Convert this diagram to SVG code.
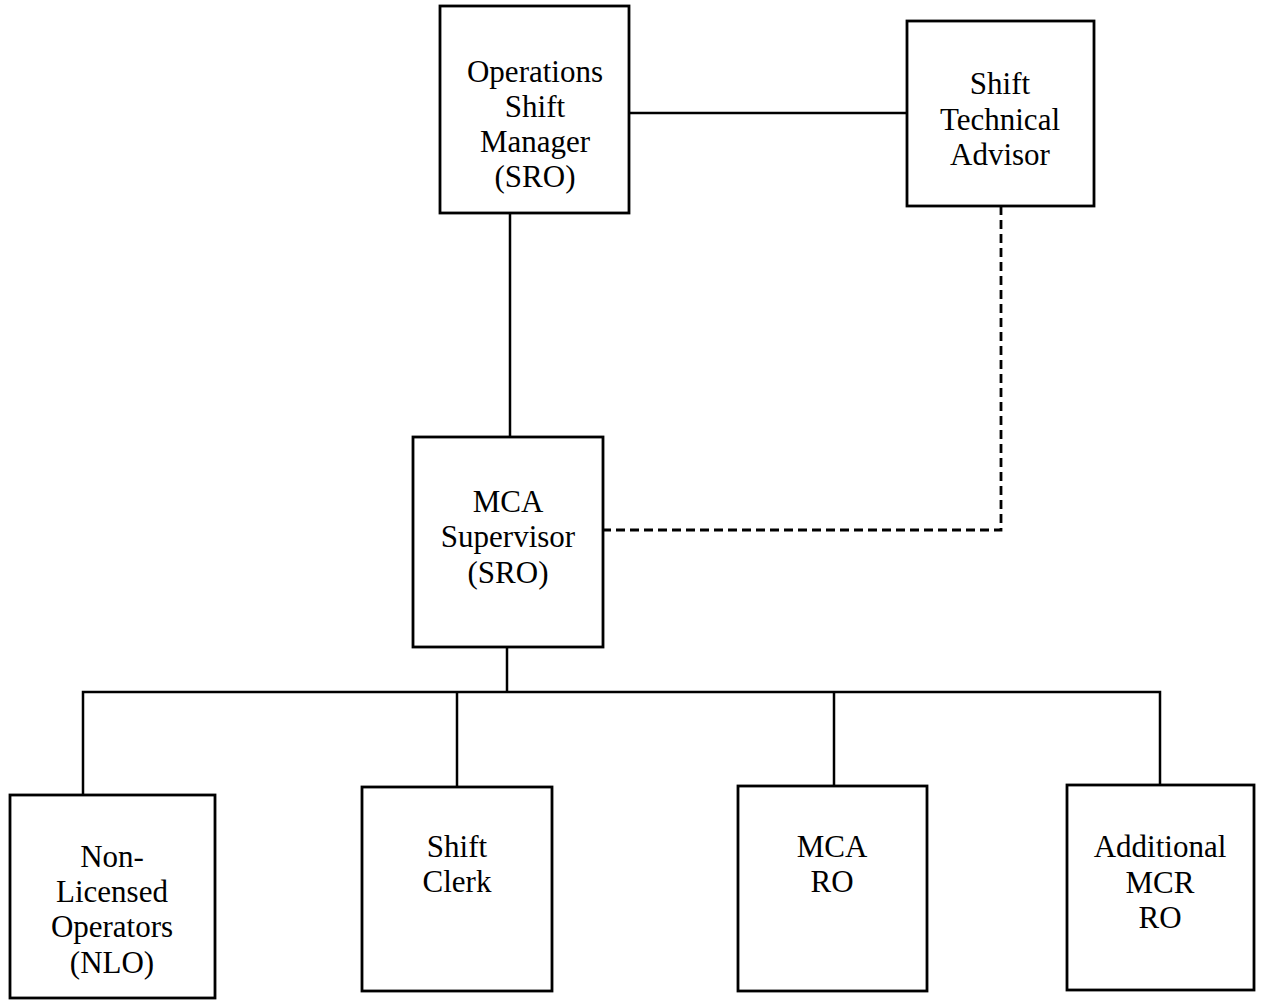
<svg xmlns="http://www.w3.org/2000/svg" width="1262" height="1000" viewBox="0 0 1262 1000">
<style>
.box{fill:#fff;stroke:#000;stroke-width:2.8}
.ln{fill:none;stroke:#000;stroke-width:2.5}
.dash{fill:none;stroke:#000;stroke-width:2.8;stroke-dasharray:9 5}
text{font-family:"Liberation Serif","Times New Roman",serif;font-size:31px;fill:#000;text-anchor:middle}
</style>
<rect width="1262" height="1000" fill="#fff"/>
<g id="connectors">
<line class="ln" x1="629" y1="113" x2="907" y2="113"/>
<line class="ln" x1="510" y1="213" x2="510" y2="437"/>
<polyline class="dash" points="1001,206 1001,530 603,530"/>
<line class="ln" x1="507" y1="647" x2="507" y2="692"/>
<polyline class="ln" points="83,795 83,692 1160,692 1160,785"/>
<line class="ln" x1="457" y1="692" x2="457" y2="787"/>
<line class="ln" x1="834" y1="692" x2="834" y2="786"/>
</g>
<g id="ops-shift-manager">
<rect class="box" x="440" y="6" width="189" height="207"/>
<text x="535" y="82">Operations</text>
<text x="535" y="117">Shift</text>
<text x="535" y="152">Manager</text>
<text x="535" y="187">(SRO)</text>
</g>
<g id="shift-technical-advisor">
<rect class="box" x="907" y="21" width="187" height="185"/>
<text x="1000" y="94">Shift</text>
<text x="1000" y="130">Technical</text>
<text x="1000" y="165">Advisor</text>
</g>
<g id="mca-supervisor">
<rect class="box" x="413" y="437" width="190" height="210"/>
<text x="508" y="512">MCA</text>
<text x="508" y="547">Supervisor</text>
<text x="508" y="583">(SRO)</text>
</g>
<g id="nlo">
<rect class="box" x="10" y="795" width="205" height="203"/>
<text x="112" y="867">Non-</text>
<text x="112" y="902">Licensed</text>
<text x="112" y="937">Operators</text>
<text x="112" y="973">(NLO)</text>
</g>
<g id="shift-clerk">
<rect class="box" x="362" y="787" width="190" height="204"/>
<text x="457" y="857">Shift</text>
<text x="457" y="892">Clerk</text>
</g>
<g id="mca-ro">
<rect class="box" x="738" y="786" width="189" height="205"/>
<text x="832" y="857">MCA</text>
<text x="832" y="892">RO</text>
</g>
<g id="additional-mcr-ro">
<rect class="box" x="1067" y="785" width="187" height="205"/>
<text x="1160" y="857">Additional</text>
<text x="1160" y="893">MCR</text>
<text x="1160" y="928">RO</text>
</g>
</svg>
